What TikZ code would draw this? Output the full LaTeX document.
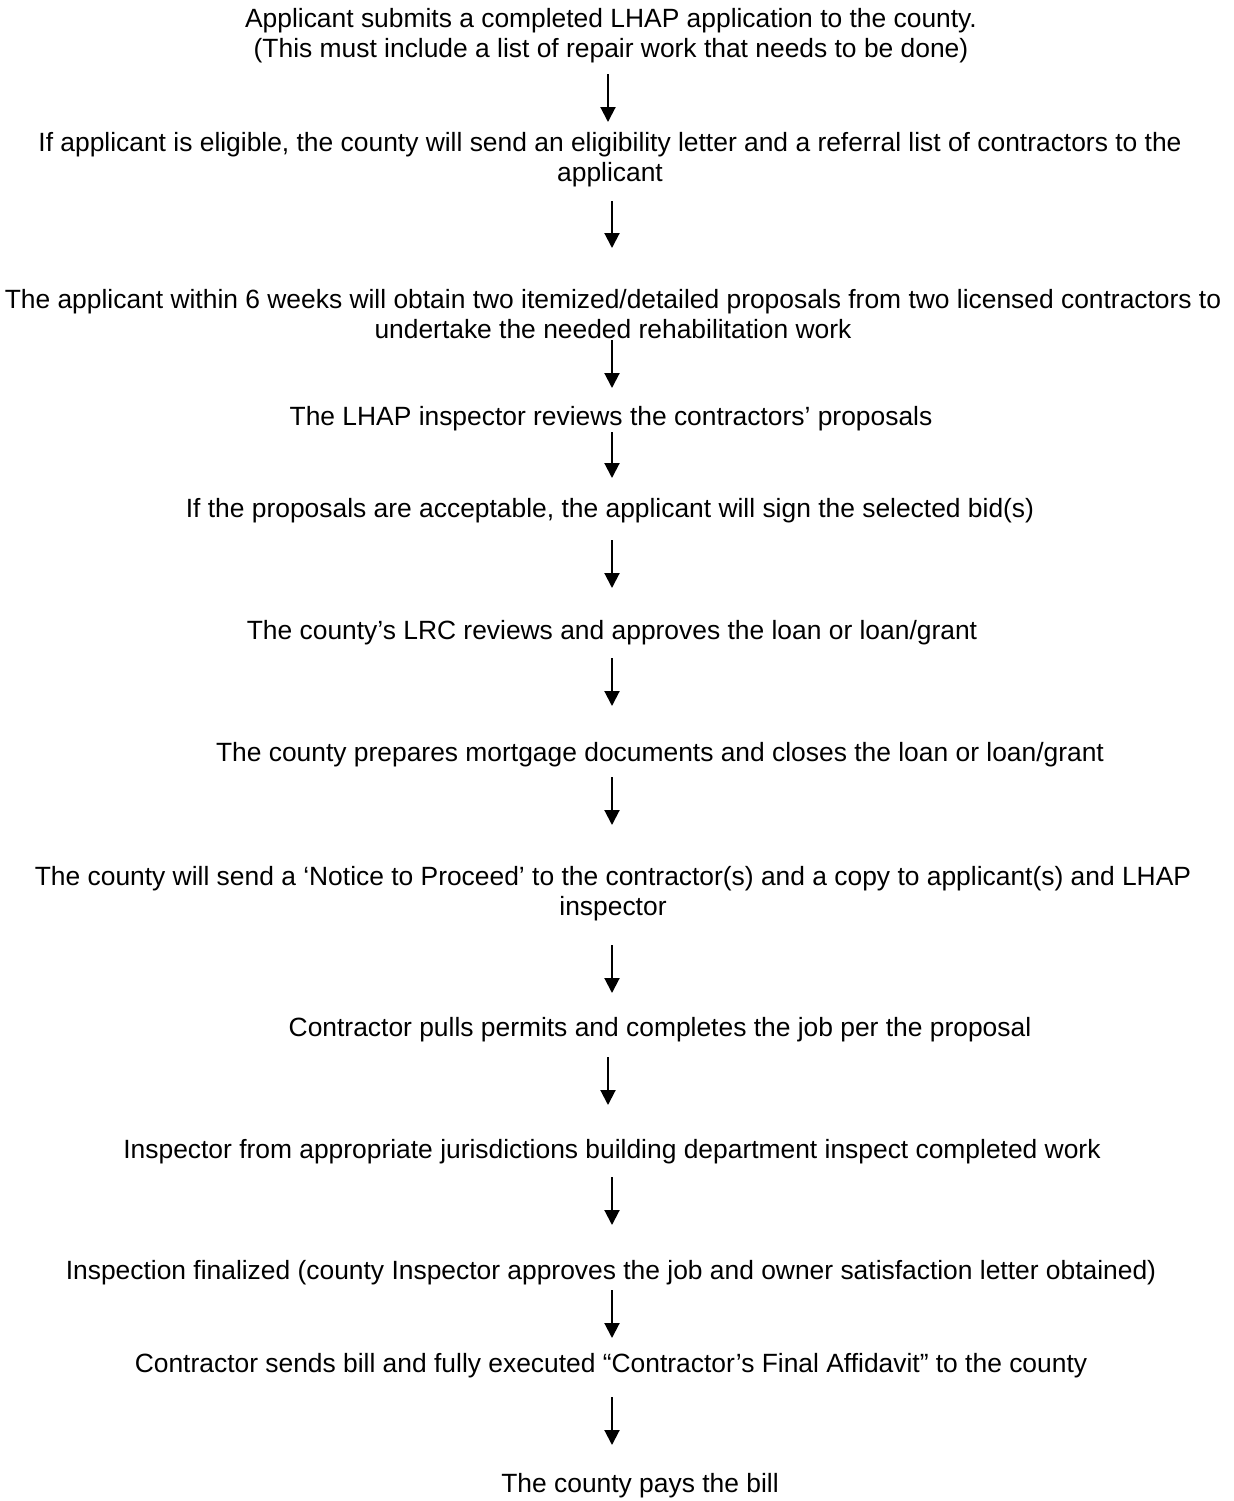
\documentclass[tikz,border=0pt]{standalone}
\usepackage{fontspec}
\setmainfont{Liberation Sans}
\usetikzlibrary{arrows.meta}

\begin{document}
\begin{tikzpicture}[x=0.5pt,y=0.5pt]
\tikzstyle{every node}+=[inner sep=0pt,align=center,font=\fontsize{13.2}{15}\selectfont]
\tikzstyle{flow}=[black,line width=1pt,-{Triangle[length=7.5pt,width=7.5pt]}]
\useasboundingbox (0,0) rectangle (1234,-1501);
\node (apply) at (611,-36) {Applicant submits a completed LHAP application to the county.\\(This must include a list of repair work that needs to be done)};
\node (elig) at (610,-160) {If applicant is eligible, the county will send an eligibility letter and a referral list of contractors to the\\applicant};
\node (bids) at (613,-314) {The applicant within 6 weeks will obtain two itemized/detailed proposals from two licensed contractors to\\undertake the needed rehabilitation work};
\node (review) at (611,-419) {The LHAP inspector reviews the contractors’ proposals};
\node (sign) at (610,-511) {If the proposals are acceptable, the applicant will sign the selected bid(s)};
\node (lrc) at (612,-633) {The county’s LRC reviews and approves the loan or loan/grant};
\node (close) at (660,-755) {The county prepares mortgage documents and closes the loan or loan/grant};
\node (notice) at (613,-894) {The county will send a ‘Notice to Proceed’ to the contractor(s) and a copy to applicant(s) and LHAP\\inspector};
\node (permits) at (660,-1030) {Contractor pulls permits and completes the job per the proposal};
\node (inspect) at (612,-1152) {Inspector from appropriate jurisdictions building department inspect completed work};
\node (final) at (611,-1273) {Inspection finalized (county Inspector approves the job and owner satisfaction letter obtained)};
\node (bill) at (611,-1366) {Contractor sends bill and fully executed “Contractor’s Final Affidavit” to the county};
\node (pay) at (640,-1486) {The county pays the bill};
% arrow ends
\coordinate (a1) at (608,-74);   \coordinate (b1) at (608,-122);
\coordinate (a2) at (612,-201);  \coordinate (b2) at (612,-248);
\coordinate (a3) at (612,-340);  \coordinate (b3) at (612,-388);
\coordinate (a4) at (612,-432);  \coordinate (b4) at (612,-478);
\coordinate (a5) at (612,-540);  \coordinate (b5) at (612,-588);
\coordinate (a6) at (612,-658);  \coordinate (b6) at (612,-706);
\coordinate (a7) at (612,-777);  \coordinate (b7) at (612,-825);
\coordinate (a8) at (612,-945);  \coordinate (b8) at (612,-993);
\coordinate (a9) at (608,-1057); \coordinate (b9) at (608,-1105);
\coordinate (a10) at (612,-1177); \coordinate (b10) at (612,-1225);
\coordinate (a11) at (612,-1290); \coordinate (b11) at (612,-1338);
\coordinate (a12) at (612,-1397); \coordinate (b12) at (612,-1445);
\foreach \i in {1,...,12}
  \draw [flow] (a\i) -- (b\i);
\end{tikzpicture}
\end{document}
